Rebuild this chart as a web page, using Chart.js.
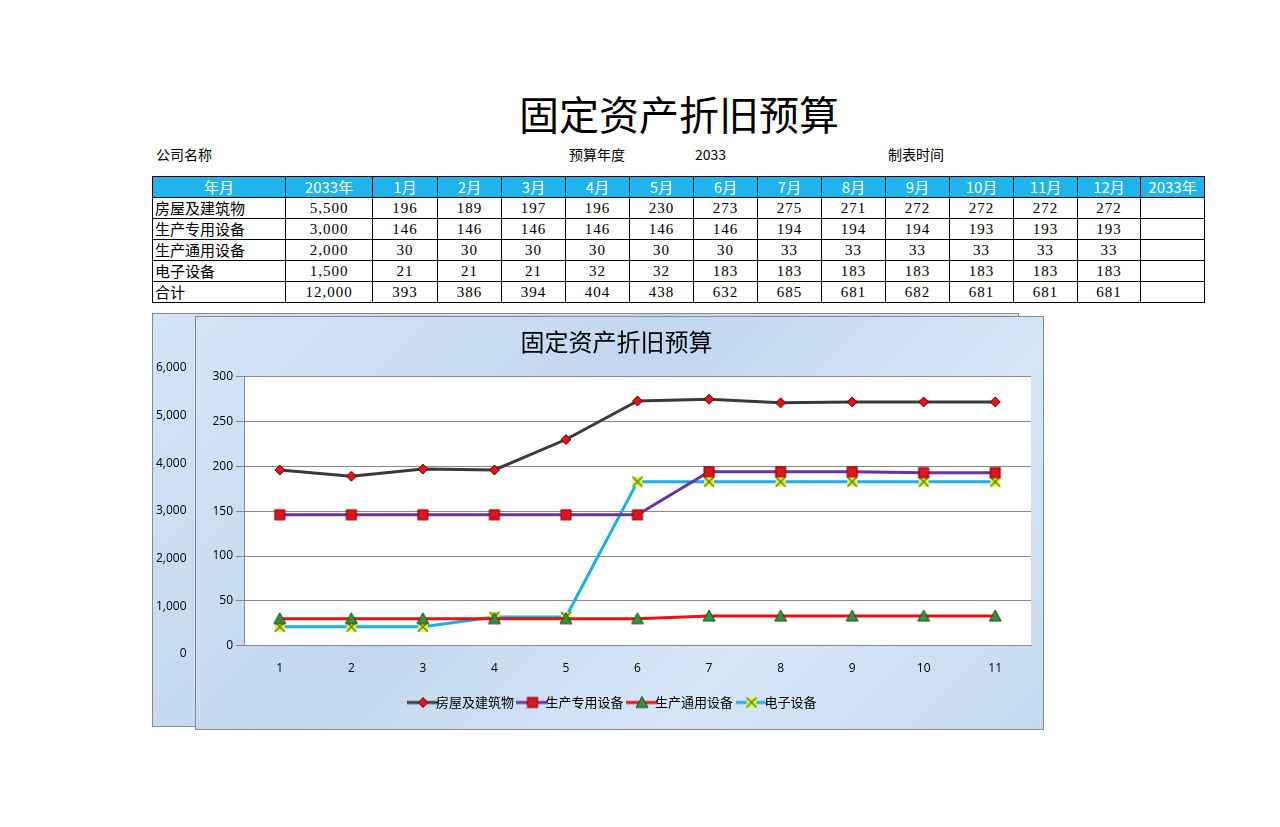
<!DOCTYPE html>
<html><head><meta charset="utf-8">
<script src="https://cdn.jsdelivr.net/npm/chart.js@4"></script>
<style>
body{margin:0;width:1280px;height:827px;background:#fff;position:relative;font-family:"Noto Sans CJK SC";overflow:hidden}
.t{position:absolute;white-space:nowrap}
table{position:absolute;left:152px;top:176px;border-collapse:collapse;font-size:15px}
td{border:1.5px solid #000;height:20px;padding:0;text-align:center;font-family:"Liberation Serif","Noto Sans CJK SC";line-height:18px;letter-spacing:1px}
td.l{text-align:left;font-family:"Noto Sans CJK SC";padding-left:2px;letter-spacing:0}
tr.h td{background:#1fb4ec;color:#fff;font-family:"Noto Sans CJK SC";letter-spacing:0}
.panel{position:absolute;border:1px solid #8a8a8a;background:linear-gradient(135deg,#d3e4f6,#c2d8f0 40%,#d6e6f7 70%,#c5daf1);overflow:hidden}
</style></head><body>
<div class="t" style="left:0;width:1358px;text-align:center;top:84px;font-size:40px">固定资产折旧预算</div>
<div class="t" style="left:156px;top:144px;font-size:14px">公司名称</div>
<div class="t" style="left:569px;top:144px;font-size:14px">预算年度</div>
<div class="t" style="left:695px;top:144px;font-size:14px">2033</div>
<div class="t" style="left:888px;top:144px;font-size:14px">制表时间</div>
<table id="tb"></table>
<div class="panel" style="left:152px;top:313px;width:865px;height:412px"><canvas id="c0" width="865" height="412"></canvas></div>
<div class="panel" style="left:195px;top:316px;width:847px;height:412px"><canvas id="c1" width="847" height="412"></canvas></div>
<script>
const header=["年月","2033年","1月","2月","3月","4月","5月","6月","7月","8月","9月","10月","11月","12月","2033年"];
const rowNames=["房屋及建筑物","生产专用设备","生产通用设备","电子设备","合计"];
const yearTotals=["5,500","3,000","2,000","1,500","12,000"];
const building=[196,189,197,196,230,273,275,271,272,272,272,272];
const special=[146,146,146,146,146,146,194,194,194,193,193,193];
const general=[30,30,30,30,30,30,33,33,33,33,33,33];
const electronic=[21,21,21,32,32,183,183,183,183,183,183,183];
const totals=[393,386,394,404,438,632,685,681,682,681,681,681];
const colW=[133,87,65,64,64,64,64,64,64,64,64,64,64,63,64];
const chartLabels=["1","2","3","4","5","6","7","8","9","10","11"];

const tb=document.getElementById('tb');
let h='<tr class="h">'+header.map((x,i)=>`<td style="width:${colW[i]-1}px">${x}</td>`).join('')+'</tr>';
const all=[building,special,general,electronic,totals];
rowNames.forEach((n,r)=>{h+=`<tr><td class="l">${n}</td><td>${yearTotals[r]}</td>`+all[r].map(v=>`<td>${v}</td>`).join('')+'<td></td></tr>';});
tb.innerHTML=h;

new Chart(document.getElementById('c0'),{type:'line',data:{labels:chartLabels,datasets:[{data:[],borderWidth:0}]},
options:{responsive:false,animation:false,devicePixelRatio:1,layout:{padding:{top:54,bottom:72}},
plugins:{legend:{display:false},title:{display:false},tooltip:{enabled:false}},
scales:{x:{display:false},y:{min:0,max:6000,ticks:{stepSize:1000,color:'#000',font:{size:12,family:'Open Sans'}},grid:{display:false},border:{display:false}}}}});

function marker(type,withLine,color){
  const w=withLine?32:16,c=document.createElement('canvas');c.width=w;c.height=16;const x=c.getContext('2d');const cx=w/2,cy=8;
  if(withLine){x.strokeStyle=color;x.lineWidth=3;x.beginPath();x.moveTo(0,cy);x.lineTo(w,cy);x.stroke();}
  x.lineWidth=1;
  if(type==='d'){x.fillStyle='#e0141b';x.strokeStyle='#600';x.beginPath();x.moveTo(cx,cy-5);x.lineTo(cx+5,cy);x.lineTo(cx,cy+5);x.lineTo(cx-5,cy);x.closePath();x.fill();x.stroke();}
  if(type==='s'){x.fillStyle='#e0141b';x.strokeStyle='#800';x.fillRect(cx-5,cy-5,10,10);x.strokeRect(cx-5,cy-5,10,10);}
  if(type==='t'){x.fillStyle='#3a8f3a';x.strokeStyle='#1d4d1d';x.beginPath();x.moveTo(cx,cy-6);x.lineTo(cx+6,cy+5);x.lineTo(cx-6,cy+5);x.closePath();x.fill();x.stroke();}
  if(type==='x'){x.fillStyle='#f0f040';x.fillRect(cx-5,cy-5,10,10);x.strokeStyle='#4d8a1d';x.lineWidth=1.5;x.beginPath();x.moveTo(cx-5,cy-5);x.lineTo(cx+5,cy+5);x.moveTo(cx+5,cy-5);x.lineTo(cx-5,cy+5);x.stroke();}
  return c;
}
function mk(label,data,color,t){return{label,data,borderColor:color,pointStyle:marker(t,false),legendImg:marker(t,true,color),borderWidth:3,tension:0};}
new Chart(document.getElementById('c1'),{type:'line',data:{labels:chartLabels,datasets:[
 mk('房屋及建筑物',building.slice(0,11),'#3a3a3a','d'),
 mk('生产专用设备',special.slice(0,11),'#7030a0','s'),
 mk('生产通用设备',general.slice(0,11),'#ee1010','t'),
 mk('电子设备',electronic.slice(0,11),'#19b0e8','x')]},
options:{responsive:false,animation:false,devicePixelRatio:1,layout:{padding:{top:6,right:12,left:6,bottom:10}},
plugins:{tooltip:{enabled:false},title:{display:true,text:'固定资产折旧预算',color:'#000',font:{size:24,family:'Noto Sans CJK SC',weight:'normal'},padding:{top:4,bottom:21}},
 legend:{position:'bottom',labels:{usePointStyle:true,color:'#000',font:{size:13,family:'Noto Sans CJK SC'},padding:12,
  generateLabels(ch){return ch.data.datasets.map((d,i)=>({text:d.label,pointStyle:d.legendImg,datasetIndex:i,fontColor:'#000',lineWidth:0}));}}}},
scales:{x:{offset:true,grid:{display:false},border:{color:'#888'},ticks:{color:'#000',font:{size:12,family:'Open Sans'},padding:8}},
 y:{min:0,max:300,afterFit(s){s.width=42;},ticks:{stepSize:50,color:'#000',font:{size:12,family:'Open Sans'}},grid:{color:'#888',drawTicks:true},border:{color:'#888'}}}},
plugins:[{id:'bg',beforeDraw(ch){const a=ch.chartArea,x=ch.ctx;x.save();x.fillStyle='#fff';x.fillRect(a.left,a.top,a.right-a.left,a.bottom-a.top);x.restore();}}]});
</script></body></html>
